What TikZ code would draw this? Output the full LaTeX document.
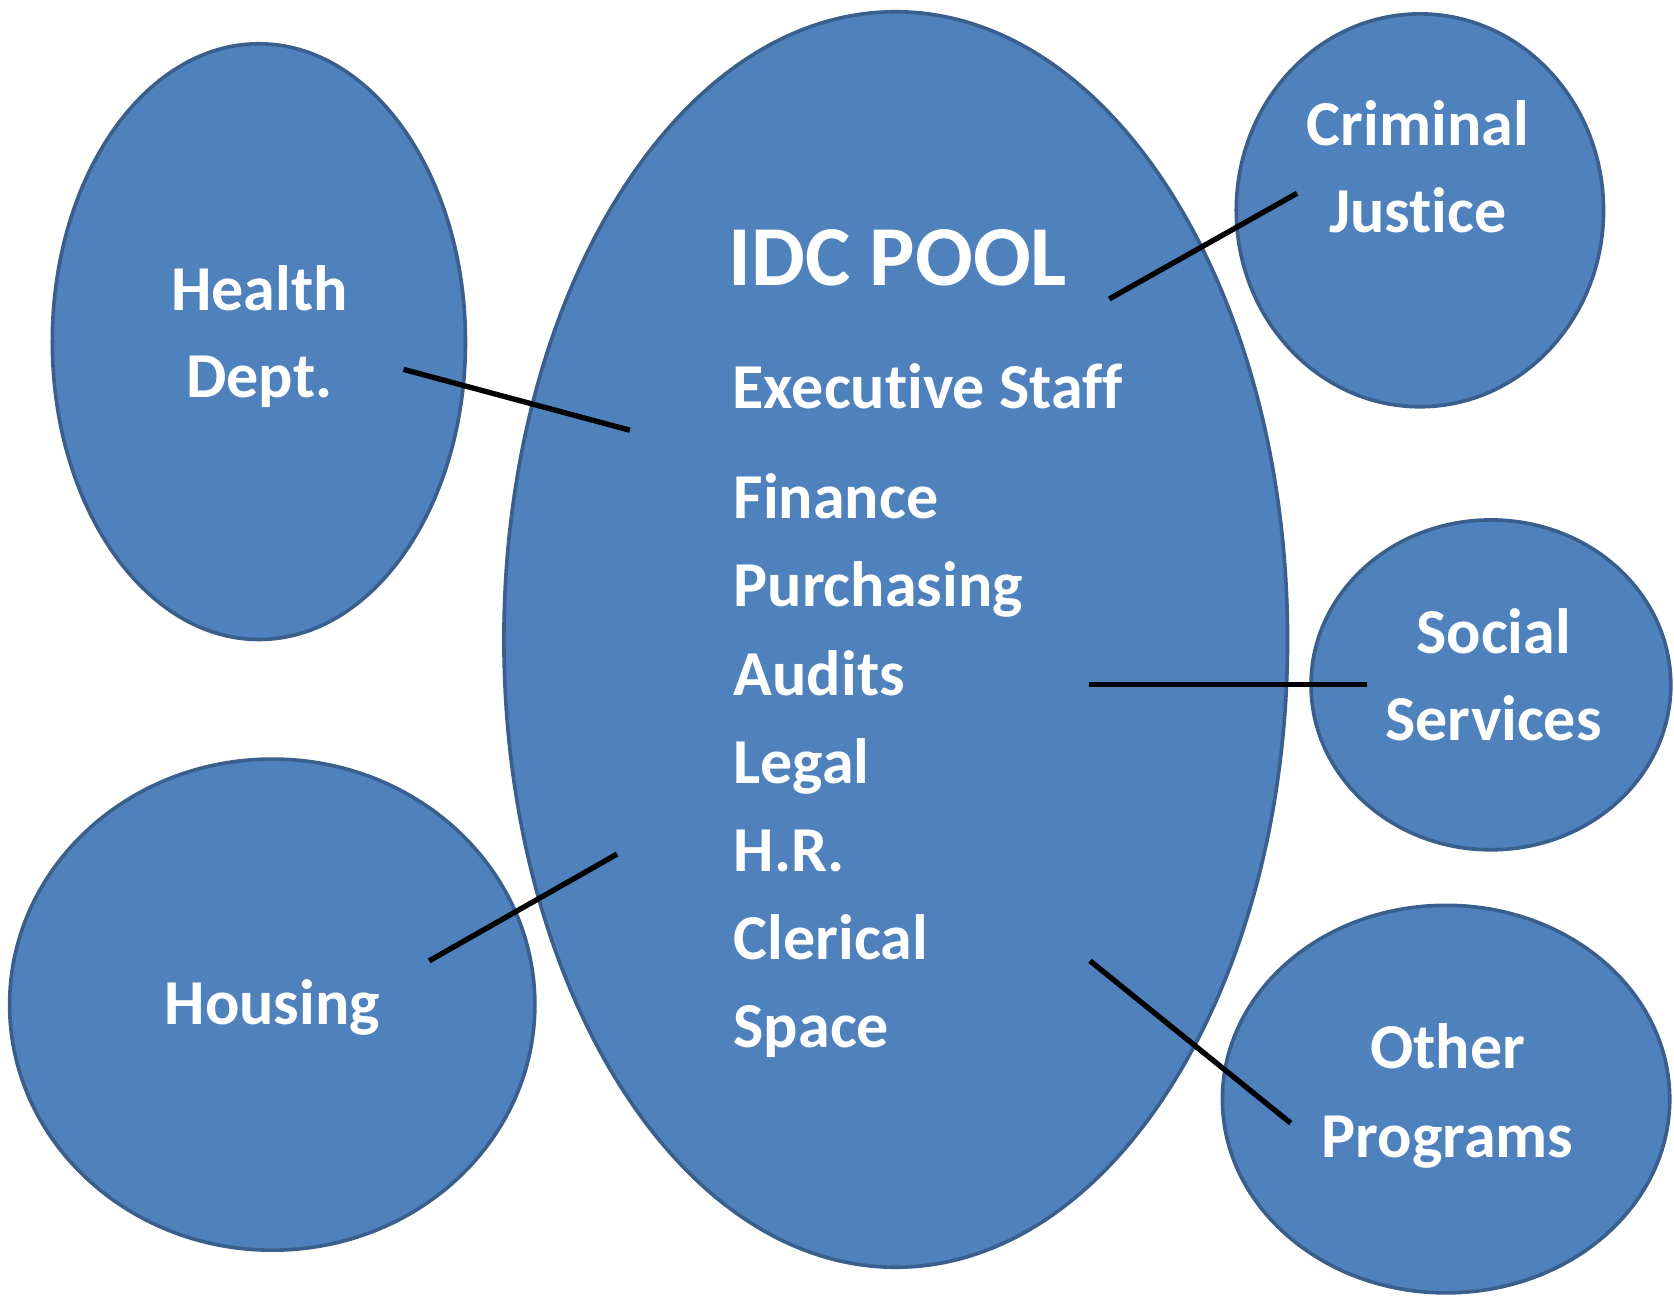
\documentclass[tikz,border=0pt]{standalone}
\usepackage{fontspec}
\setmainfont{Carlito}[Ligatures=NoCommon]
\usetikzlibrary{shapes.geometric}
\definecolor{poolblue}{HTML}{4F81BD}
\definecolor{poolrim}{HTML}{3A5F8C}
\tikzset{
	blob/.style={ellipse, draw=poolrim, fill=poolblue, line width=3.4pt, inner sep=0pt},
	lbl/.style={text=white, inner sep=0pt, anchor=base, font=\bfseries\fontsize{60}{72}\selectfont},
	link/.style={line width=5pt, black},
}
\begin{document}
\begin{tikzpicture}[x=1pt, y=-1pt]
	\useasboundingbox (0,0) rectangle (1568,1214);
	%
	\node[blob, minimum width=734pt, minimum height=1176pt] (pool) at (839,599) {};
	\node[blob, minimum width=387pt, minimum height=558pt] (health) at (242.5,320) {};
	\node[blob, minimum width=492pt, minimum height=460pt] (housing) at (255,941) {};
	\node[blob, minimum width=344pt, minimum height=368pt] (crim) at (1330,197) {};
	\node[blob, minimum width=337pt, minimum height=309pt] (social) at (1396.5,641.5) {};
	\node[blob, minimum width=419pt, minimum height=363pt] (other) at (1354.5,1029.5) {};
	%
	\node[lbl, font=\bfseries\fontsize{80}{96}\selectfont] (idc) at (841,267) {IDC POOL};
	\node[lbl, anchor=base west] (exec) at (686,383) {Executive Staff};
	\foreach \txt [count=\i] in {Finance, Purchasing, Audits, Legal, H.R., Clerical, Space}
		\node[lbl, anchor=base west] (item\i) at (687,{486+82.5*(\i-1)}) {\txt};
	%
	\node[lbl] (health1) at (243,291) {Health};
	\node[lbl] (health2) at (243,372) {Dept.};
	\node[lbl] (crim1) at (1328,136) {Criminal};
	\node[lbl] (crim2) at (1328,217.5) {Justice};
	\node[lbl] (social1) at (1399,612.5) {Social};
	\node[lbl] (social2) at (1399,694) {Services};
	\node[lbl] (housing1) at (255,960) {Housing};
	\node[lbl] (other1) at (1356,1001) {Other};
	\node[lbl] (other2) at (1356,1084) {Programs};
	%
	\coordinate (health-in) at (378,346);
	\coordinate (pool-hd) at (590,403);
	\coordinate (crim-in) at (1215,181);
	\coordinate (pool-cj) at (1039,280);
	\coordinate (social-in) at (1280,641);
	\coordinate (pool-ss) at (1020,641);
	\coordinate (housing-in) at (402,900);
	\coordinate (pool-ho) at (578,800);
	\coordinate (other-in) at (1209,1052);
	\coordinate (pool-op) at (1021,900);
	%
	\draw[link] (health-in) -- (pool-hd);
	\draw[link] (pool-cj) -- (crim-in);
	\draw[link] (pool-ss) -- (social-in);
	\draw[link] (housing-in) -- (pool-ho);
	\draw[link] (pool-op) -- (other-in);
\end{tikzpicture}
\end{document}
